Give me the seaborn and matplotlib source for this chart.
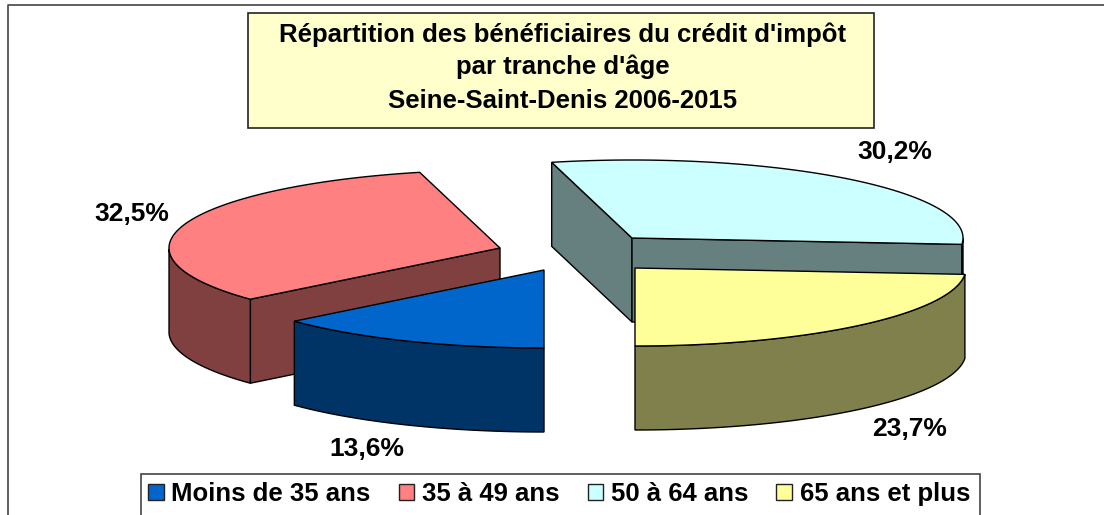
import numpy as np
import seaborn as sns
from matplotlib import pyplot as plt
from matplotlib.patches import Patch, Rectangle

# Pie values and labels
categories = ['Moins de 35 ans', '35 à 49 ans', '50 à 64 ans', '65 ans et plus']
values = [13.6, 32.5, 30.2, 23.7]
value_labels = ['13,6%', '32,5%', '30,2%', '23,7%']
title_lines = ["Répartition des bénéficiaires du crédit d'impôt", "par tranche d'âge", 'Seine-Saint-Denis 2006-2015']
top_colors = ['#0066CC', '#FF8080', '#CCFFFF', '#FFFF99']

# Layout in pixels of the picture: exploded centre of each slice
centers = [(544, 270), (500, 248), (632, 238), (635, 268)]
label_pos = [(367, 449), (132, 214), (895, 152), (910, 429)]
rx, ry, depth = 331, 78, 84

sns.set_theme(style='white')
plt.rcParams['font.family'] = ['Liberation Sans', 'DejaVu Sans']
palette = sns.color_palette(top_colors)
side_colors = [tuple(c * 0.5 for c in col) for col in palette]

fig = plt.figure(figsize=(11.04, 5.15), dpi=100)
ax = fig.add_axes([0, 0, 1, 1])
ax.set_xlim(0, 1104)
ax.set_ylim(515, 0)
ax.axis('off')

# chart frame, right and bottom sides are cut in the picture
ax.plot([8, 8, 1104], [515, 5, 5], color='#444444', lw=1.2)


def rim(cx, cy, t):
    # t in degrees, clockwise from the bottom of the ellipse
    r = np.radians(t)
    return cx - rx * np.sin(r), cy + ry * np.cos(r)


def draw_slice(i, t1, t2, z):
    cx, cy = centers[i]
    ts = np.linspace(t1, t2, 120)
    xs, ys = rim(cx, cy, ts)
    tm = (t1 + t2) / 2
    mx, my = rim(cx, cy, tm)
    mx, my = mx - cx, my - cy

    # flat cut faces, only those facing the viewer
    for t in (t1, t2):
        ex, ey = rim(cx, cy, t)
        dx, dy = ex - cx, ey - cy
        if abs(dx) > 1 and my < dy / dx * mx:
            ax.fill([cx, ex, ex, cx], [cy, ey, ey + depth, cy + depth],
                    facecolor=side_colors[i], edgecolor='black', lw=1, zorder=z)

    # round side, only the front half of the ellipse
    cos_t = np.cos(np.radians(ts))
    front = cos_t >= 0
    if front.any():
        fx, fy = xs[front], ys[front]
        ax.fill(np.r_[fx, fx[::-1]], np.r_[fy, fy[::-1] + depth],
                facecolor=side_colors[i], edgecolor='black', lw=1, zorder=z)

    # top of the slice
    ax.fill(np.r_[cx, xs], np.r_[cy, ys], facecolor=palette[i],
            edgecolor='black', lw=1, zorder=z)


# slices run clockwise from 6 o'clock, cyan first so yellow and blue sit over it
angles = np.r_[0, np.cumsum(values)] * 3.6
for z, i in enumerate([2, 1, 3, 0]):
    draw_slice(i, angles[i], angles[i + 1], z + 2)

for txt, (x, y) in zip(value_labels, label_pos):
    ax.text(x, y, txt, ha='center', va='center', fontsize=19, fontweight='bold',
            color='black', zorder=10)

# title box
ax.add_patch(Rectangle((248, 13), 626, 115, facecolor='#FFFFCC', edgecolor='#222222', lw=1.2, zorder=8))
for txt, y in zip(title_lines, [35, 67, 101]):
    ax.text(563, y, txt, ha='center', va='center', fontsize=18.5, fontweight='bold',
            color='black', zorder=9)

# legend box runs off the bottom of the picture
ax.add_patch(Rectangle((141, 474), 839, 60, facecolor='white', edgecolor='#444444', lw=1.2, zorder=8))
handles = [Patch(facecolor=c, edgecolor='#222222', lw=1) for c in palette]
leg = ax.legend(handles, categories, ncol=4, frameon=False, loc='center',
                bbox_to_anchor=(559 / 1104, 1 - 494 / 515),
                prop={'weight': 'bold', 'size': 18.5}, handlelength=0.6, handleheight=0.6,
                handletextpad=0.3, columnspacing=1.1, labelcolor='black')
leg.set_zorder(9)

fig.savefig('out.png', dpi=100)
